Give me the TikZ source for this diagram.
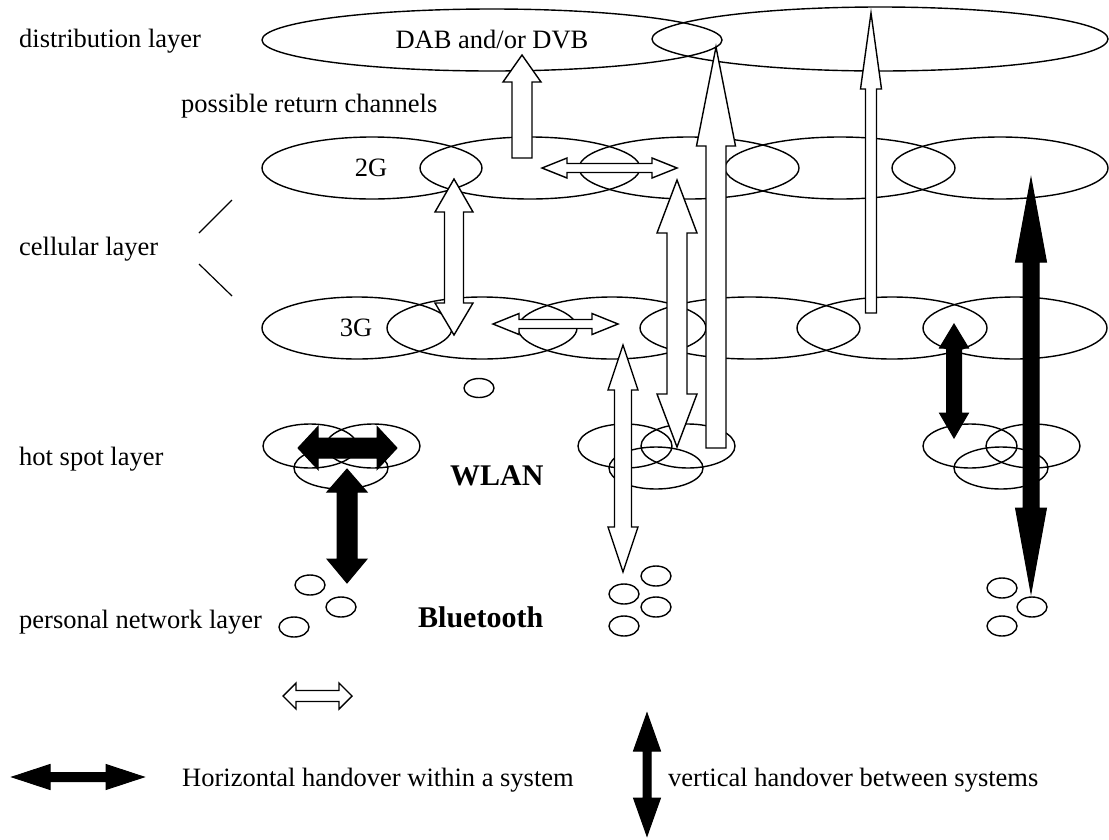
\documentclass[tikz,border=0pt]{standalone}
\usepackage{fontspec}
\setmainfont{Liberation Serif}

% vertical double block arrow: x, top tip, bottom tip, shaft half width, head half width, top head length, bottom head length, style
\newcommand\vdarr[8]{%
  \path[#8] (#1,#2) -- ({#1+#5},{#2+#6}) -- ({#1+#4},{#2+#6}) -- ({#1+#4},{#3-#7})
    -- ({#1+#5},{#3-#7}) -- (#1,#3) -- ({#1-#5},{#3-#7}) -- ({#1-#4},{#3-#7})
    -- ({#1-#4},{#2+#6}) -- ({#1-#5},{#2+#6}) -- cycle;}
% horizontal double block arrow: y, left tip, right tip, shaft half height, head half height, head length, style
\newcommand\hdarr[7]{%
  \path[#7] (#2,#1) -- ({#2+#6},{#1-#5}) -- ({#2+#6},{#1-#4}) -- ({#3-#6},{#1-#4})
    -- ({#3-#6},{#1-#5}) -- (#3,#1) -- ({#3-#6},{#1+#5}) -- ({#3-#6},{#1+#4})
    -- ({#2+#6},{#1+#4}) -- ({#2+#6},{#1+#5}) -- cycle;}
% upward block arrow: x, tip, bottom, shaft half width, head half width, head length, style
\newcommand\uparr[7]{%
  \path[#7] (#1,#2) -- ({#1+#5},{#2+#6}) -- ({#1+#4},{#2+#6}) -- ({#1+#4},#3)
    -- ({#1-#4},#3) -- ({#1-#4},{#2+#6}) -- ({#1-#5},{#2+#6}) -- cycle;}

\begin{document}
\begin{tikzpicture}[x=1pt,y=-1pt,
  cell/.style={draw=black,line width=1.4pt},
  warr/.style={draw=black,fill=white,line width=1.4pt,line join=miter},
  barr/.style={draw=black,fill=black,line width=1pt,line join=miter},
  lbl/.style={anchor=base west,inner sep=0pt,font=\fontsize{26.5}{30}\selectfont},
  clbl/.style={anchor=base,inner sep=0pt,font=\fontsize{26.5}{30}\selectfont},
  blbl/.style={anchor=base west,inner sep=0pt,font=\fontsize{30}{34}\selectfont\bfseries}]
\useasboundingbox (0,0) rectangle (1109,839);

% distribution layer
\draw[cell] (492,40) ellipse (230pt and 31pt);
\draw[cell] (880,39) ellipse (228pt and 32pt);

% 2G cells
\draw[cell] (372,168) ellipse (110pt and 31pt);
\draw[cell] (530,168) ellipse (110pt and 31pt);
\draw[cell] (689,168) ellipse (110pt and 31pt);
\draw[cell] (840,168) ellipse (115pt and 31pt);
\draw[cell] (1000,168) ellipse (108pt and 31pt);

% 3G cells
\draw[cell] (357,328) ellipse (95pt and 31pt);
\draw[cell] (482,328) ellipse (95pt and 31pt);
\draw[cell] (612,328) ellipse (94pt and 31pt);
\draw[cell] (750,328) ellipse (110pt and 31pt);
\draw[cell] (892,328) ellipse (95pt and 31pt);
\draw[cell] (1015,328) ellipse (92pt and 31pt);
\draw[cell] (479,388) ellipse (15pt and 9.5pt);

% hot spot clusters
\foreach \cx in {0,315,660}{
  \draw[cell] ({310+\cx},446) ellipse (47pt and 22pt);
  \draw[cell] ({373+\cx},446) ellipse (47pt and 22pt);
  \draw[cell] ({341+\cx},468) ellipse (47pt and 21pt);
}

% personal network cells
\foreach \px/\py in {310/585,341/607,294/627,656/576,624/594,656/607,624/626,1002/588,1032/607,1002/626}
  \draw[cell] (\px,\py) ellipse (15pt and 10pt);

% cellular layer brace strokes
\draw[line width=1.2pt] (199,233) -- (232,200);
\draw[line width=1.2pt] (199,264) -- (232,296);

% white handover arrows
\uparr{522}{55}{158}{10}{19}{27}{warr}
\vdarr{454}{179}{335}{9.5}{19}{33}{32}{warr}
\hdarr{168}{542}{677}{4.5}{10}{25}{warr}
\hdarr{324}{493}{618}{4.5}{10.5}{26}{warr}
\vdarr{623}{345}{572}{8.5}{15}{45}{45}{warr}
\vdarr{677}{180}{447}{10}{20}{53}{53}{warr}
\uparr{716}{47}{448}{10}{19.5}{99}{warr}
\uparr{871}{13}{313}{5.5}{10.5}{76}{warr}

% black handover arrows
\hdarr{448}{298}{397}{10}{21.5}{20}{barr}
\vdarr{347}{469}{583}{10}{20}{23}{24}{barr}
\vdarr{954}{324}{438}{7.5}{14.5}{24}{25}{barr}
\vdarr{1031}{178}{593}{8}{15.5}{84}{85}{barr}

% legend arrows
\hdarr{696}{283}{352}{5.5}{13}{13}{warr}
\hdarr{777}{12}{144}{4.5}{12.5}{38}{barr}
\vdarr{647}{713}{836}{4}{13.5}{38}{38}{barr}

% labels
\node[lbl] (dist) at (19,47) {distribution layer};
\node[lbl] (ret) at (181,112) {possible return channels};
\node[lbl] (cell) at (19,255) {cellular layer};
\node[lbl] (hot) at (19,465) {hot spot layer};
\node[lbl] (pers) at (19,628) {personal network layer};
\node[clbl] (dab) at (492,48) {DAB and/or DVB};
\node[clbl] (twog) at (371,176) {2G};
\node[clbl] (threeg) at (356,336) {3G};
\node[blbl] (wlan) at (450,485) {WLAN};
\node[blbl] (bt) at (418,627) {Bluetooth};
\node[lbl] (hleg) at (182,786) {Horizontal handover within a system};
\node[lbl] (vleg) at (668,786) {vertical handover between systems};
\end{tikzpicture}
\end{document}
